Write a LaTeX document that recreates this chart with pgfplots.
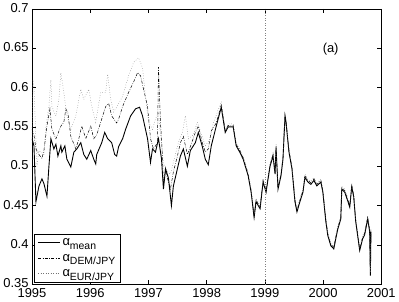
\documentclass[border=0pt]{standalone}
\usepackage{fontspec}
\setmainfont{Liberation Sans}
\usepackage{pgfplots}
\pgfplotsset{compat=1.18}
\newcommand{\alp}[1]{α\raisebox{-0.55ex}{\fontsize{10.5}{10.5}\selectfont #1}}
\begin{document}
\begin{tikzpicture}
\begin{axis}[
  scale only axis,
  width=350bp, height=276bp,
  xmin=1995, xmax=2001, ymin=0.35, ymax=0.7,
  xtick={1995,1996,1997,1998,1999,2000,2001},
  ytick={0.35,0.4,0.45,0.5,0.55,0.6,0.65,0.7},
  yticklabels={0.35,0.4,0.45,0.5,0.55,0.6,0.65,0.7},
  xticklabels={1995,1996,1997,1998,1999,2000,2001},
  tick align=inside,
  major tick length=4bp,
  axis line style={black, line width=0.6pt},
  tick style={black, line width=0.5pt},
  ticklabel style={font=\fontsize{13}{15}\selectfont},
  xticklabel style={yshift=-1pt},
  yticklabel style={yshift=1pt},
  legend style={at={(0.007,0.008)}, anchor=south west, draw=black, line width=0.5pt,
    font=\fontsize{13}{15}\selectfont, inner xsep=3pt, inner ysep=2pt, row sep=3pt, cells={anchor=west}},
  legend cell align=left,
  legend image code/.code={\draw[#1] (0bp,0bp) -- (22bp,0bp);},
]
\addplot[black, line width=0.9pt] coordinates {
(1995.000,0.535) (1995.034,0.526) (1995.068,0.455) (1995.120,0.475) (1995.171,0.484)
(1995.205,0.478) (1995.257,0.462) (1995.291,0.500) (1995.325,0.535) (1995.376,0.522)
(1995.411,0.528) (1995.445,0.513) (1995.496,0.526) (1995.513,0.518) (1995.565,0.526)
(1995.599,0.509) (1995.667,0.499) (1995.719,0.518) (1995.770,0.522) (1995.838,0.530)
(1995.890,0.515) (1995.941,0.509) (1996.009,0.520) (1996.061,0.509) (1996.095,0.503)
(1996.112,0.515) (1996.198,0.530) (1996.249,0.543) (1996.300,0.535) (1996.369,0.530)
(1996.420,0.515) (1996.454,0.513) (1996.488,0.525) (1996.557,0.535) (1996.608,0.547)
(1996.694,0.564) (1996.779,0.573) (1996.848,0.575) (1996.899,0.564) (1996.985,0.535)
(1997.036,0.505) (1997.070,0.522) (1997.121,0.518) (1997.173,0.535) (1997.224,0.510)
(1997.258,0.471) (1997.293,0.497) (1997.344,0.485) (1997.395,0.450) (1997.429,0.475)
(1997.498,0.497) (1997.549,0.513) (1997.600,0.522) (1997.669,0.500) (1997.720,0.520)
(1997.806,0.530) (1997.857,0.543) (1997.926,0.525) (1997.977,0.509) (1998.028,0.502)
(1998.080,0.526) (1998.165,0.551) (1998.251,0.575) (1998.319,0.543) (1998.370,0.550)
(1998.456,0.550) (1998.507,0.526) (1998.576,0.517) (1998.627,0.509) (1998.713,0.488)
(1998.764,0.467) (1998.815,0.435) (1998.849,0.455) (1998.918,0.446) (1998.969,0.480)
(1999.021,0.467) (1999.055,0.484) (1999.089,0.500) (1999.140,0.513) (1999.175,0.490)
(1999.192,0.524) (1999.226,0.471) (1999.277,0.488) (1999.311,0.509) (1999.346,0.564)
(1999.363,0.556) (1999.414,0.518) (1999.465,0.497) (1999.517,0.455) (1999.551,0.442)
(1999.602,0.455) (1999.654,0.467) (1999.688,0.486) (1999.739,0.480) (1999.790,0.477)
(1999.842,0.482) (1999.893,0.475) (1999.962,0.480) (1999.996,0.467) (2000.047,0.430)
(2000.081,0.412) (2000.133,0.399) (2000.184,0.395) (2000.218,0.408) (2000.252,0.420)
(2000.304,0.433) (2000.321,0.471) (2000.372,0.467) (2000.423,0.456) (2000.458,0.448)
(2000.492,0.474) (2000.526,0.461) (2000.560,0.430) (2000.629,0.393) (2000.680,0.408)
(2000.714,0.413) (2000.766,0.433) (2000.800,0.417) (2000.812,0.361) (2000.822,0.417)
};
\addlegendentry{\alp{mean}}
\addplot[black, line width=0.5pt, dash pattern=on 3pt off 1.5pt on 0.6pt off 1.5pt] coordinates {
(1995.000,0.547) (1995.034,0.540) (1995.068,0.522) (1995.120,0.515) (1995.171,0.510)
(1995.205,0.520) (1995.257,0.551) (1995.308,0.573) (1995.342,0.547) (1995.411,0.535)
(1995.496,0.551) (1995.547,0.556) (1995.582,0.573) (1995.616,0.568) (1995.667,0.538)
(1995.753,0.522) (1995.804,0.535) (1995.855,0.551) (1995.924,0.535) (1996.009,0.551)
(1996.061,0.535) (1996.112,0.540) (1996.198,0.560) (1996.266,0.576) (1996.317,0.580)
(1996.369,0.564) (1996.454,0.555) (1996.488,0.560) (1996.557,0.576) (1996.660,0.594)
(1996.745,0.607) (1996.814,0.619) (1996.865,0.615) (1996.916,0.598) (1996.985,0.576)
(1997.036,0.535) (1997.087,0.522) (1997.156,0.530) (1997.173,0.626) (1997.207,0.556)
(1997.241,0.513) (1997.258,0.475) (1997.293,0.495) (1997.344,0.480) (1997.378,0.471)
(1997.429,0.493) (1997.498,0.513) (1997.549,0.530) (1997.600,0.538) (1997.669,0.515)
(1997.720,0.525) (1997.806,0.543) (1997.857,0.551) (1997.926,0.530) (1997.977,0.518)
(1998.028,0.522) (1998.080,0.545) (1998.165,0.555) (1998.251,0.578) (1998.319,0.545)
(1998.370,0.552) (1998.456,0.552) (1998.507,0.528) (1998.576,0.519) (1998.627,0.511)
(1998.713,0.490) (1998.764,0.469) (1998.815,0.437) (1998.849,0.457) (1998.918,0.448)
(1998.969,0.482) (1999.021,0.469) (1999.055,0.486) (1999.089,0.502) (1999.140,0.515)
(1999.175,0.492) (1999.192,0.526) (1999.226,0.473) (1999.277,0.490) (1999.311,0.511)
(1999.346,0.566) (1999.363,0.558) (1999.414,0.520) (1999.465,0.499) (1999.517,0.457)
(1999.551,0.444) (1999.602,0.457) (1999.654,0.469) (1999.688,0.488) (1999.739,0.482)
(1999.790,0.479) (1999.842,0.484) (1999.893,0.477) (1999.962,0.482) (1999.996,0.469)
(2000.047,0.432) (2000.081,0.414) (2000.133,0.401) (2000.184,0.397) (2000.218,0.410)
(2000.252,0.422) (2000.304,0.435) (2000.321,0.473) (2000.372,0.469) (2000.423,0.458)
(2000.458,0.450) (2000.492,0.476) (2000.526,0.463) (2000.560,0.432) (2000.629,0.395)
(2000.680,0.410) (2000.714,0.415) (2000.766,0.435) (2000.800,0.419) (2000.812,0.363)
(2000.822,0.419)
};
\addlegendentry{\alp{DEM/JPY}}
\addplot[black!55, line width=0.5pt, dotted] coordinates {
(1995.000,0.530) (1995.017,0.610) (1995.034,0.600) (1995.086,0.500) (1995.120,0.520)
(1995.205,0.515) (1995.240,0.551) (1995.291,0.576) (1995.325,0.610) (1995.342,0.576)
(1995.411,0.564) (1995.462,0.585) (1995.496,0.619) (1995.547,0.594) (1995.599,0.564)
(1995.667,0.547) (1995.753,0.564) (1995.838,0.598) (1995.890,0.585) (1995.975,0.598)
(1996.027,0.576) (1996.095,0.556) (1996.180,0.594) (1996.266,0.594) (1996.300,0.617)
(1996.352,0.585) (1996.403,0.569) (1996.454,0.575) (1996.557,0.589) (1996.660,0.615)
(1996.745,0.632) (1996.831,0.638) (1996.899,0.625) (1996.950,0.589) (1997.002,0.556)
(1997.070,0.547) (1997.121,0.560) (1997.173,0.569) (1997.207,0.540) (1997.258,0.505)
(1997.327,0.493) (1997.378,0.490) (1997.429,0.505) (1997.515,0.530) (1997.583,0.543)
(1997.635,0.564) (1997.686,0.535) (1997.772,0.540) (1997.840,0.556) (1997.891,0.545)
(1997.977,0.526) (1998.062,0.535) (1998.114,0.555) (1998.165,0.565) (1998.251,0.582)
(1998.319,0.547) (1998.370,0.554) (1998.456,0.554) (1998.507,0.530) (1998.576,0.521)
(1998.627,0.513) (1998.713,0.492) (1998.764,0.471) (1998.815,0.439) (1998.849,0.459)
(1998.918,0.450) (1998.969,0.484) (1999.021,0.471) (1999.055,0.488) (1999.089,0.504)
(1999.140,0.517) (1999.175,0.494) (1999.192,0.528) (1999.226,0.475) (1999.277,0.492)
(1999.311,0.513) (1999.346,0.568) (1999.363,0.560) (1999.414,0.522) (1999.465,0.501)
(1999.517,0.459) (1999.551,0.446) (1999.602,0.459) (1999.654,0.471) (1999.688,0.490)
(1999.739,0.484) (1999.790,0.481) (1999.842,0.486) (1999.893,0.479) (1999.962,0.484)
(1999.996,0.471) (2000.047,0.434) (2000.081,0.416) (2000.133,0.403) (2000.184,0.399)
(2000.218,0.412) (2000.252,0.424) (2000.304,0.437) (2000.321,0.475) (2000.372,0.471)
(2000.423,0.460) (2000.458,0.452) (2000.492,0.478) (2000.526,0.465) (2000.560,0.434)
(2000.629,0.397) (2000.680,0.412) (2000.714,0.417) (2000.766,0.437) (2000.800,0.421)
(2000.812,0.365) (2000.822,0.421)
};
\addlegendentry{\alp{EUR/JPY}}
\addplot[black!50, dotted, line width=0.5pt, forget plot] coordinates {(1999,0.35) (1999,0.7)};
\node[font=\fontsize{13}{15}\selectfont] at (axis cs:2000.13,0.649) {(a)};
\end{axis}
\end{tikzpicture}
\end{document}
